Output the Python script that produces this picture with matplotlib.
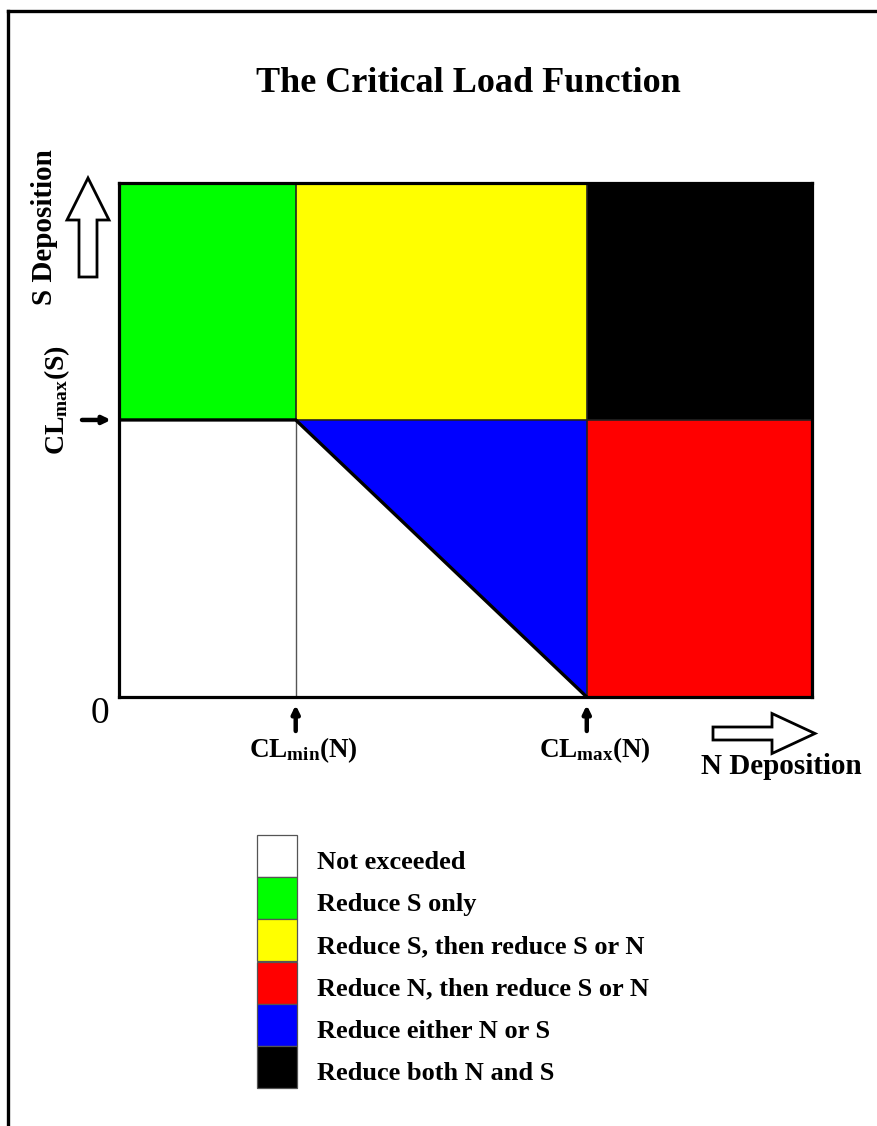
import matplotlib
matplotlib.use("Agg")
import matplotlib.pyplot as plt
from matplotlib.patches import Polygon, Rectangle, FancyArrow
from matplotlib.lines import Line2D
import matplotlib.transforms as mtransforms

plt.rcParams['font.family'] = ['Liberation Serif', 'DejaVu Serif']
plt.rcParams['mathtext.fontset'] = 'custom'
plt.rcParams['mathtext.rm'] = 'Liberation Serif'
plt.rcParams['mathtext.bf'] = 'Liberation Serif:bold'

# ---- data ----
title = "The Critical Load Function"
n_max = 10.0          # N deposition axis extent
s_max = 10.0          # S deposition axis extent
cl_min_n = 2.55
cl_max_n = 6.75
cl_max_s = 5.39

legend_labels = ["Not exceeded", "Reduce S only", "Reduce S, then reduce S or N",
                 "Reduce N, then reduce S or N", "Reduce either N or S", "Reduce both N and S"]
legend_colors = ["#FFFFFF", "#00FF00", "#FFFF00", "#FF0000", "#0000FF", "#000000"]

W, H = 877, 1126
fig = plt.figure(figsize=(W / 100, H / 100), dpi=100)

def fx(px):
    return px / W

def fy(py):
    return 1 - py / H

# outer frame (top and left visible)
fig.add_artist(Line2D([fx(8), fx(8)], [fy(11), 0], transform=fig.transFigure, color='black', lw=2.4))
fig.add_artist(Line2D([fx(8), 1], [fy(11), fy(11)], transform=fig.transFigure, color='black', lw=2.4))

fig.text(fx(468), fy(83), title, ha='center', va='center', fontsize=26, fontweight='bold')

# ---- main axes ----
L, R, T, B = 119, 812, 183, 697
ax = fig.add_axes([fx(L), fy(B), fx(R) - fx(L), fy(T) - fy(B)])
ax.set_xlim(0, n_max)
ax.set_ylim(0, s_max)
ax.set_xticks([])
ax.set_yticks([])
for s in ax.spines.values():
    s.set_linewidth(2.3)
    s.set_zorder(10)

white, green, yellow, red, blue, black = legend_colors
# regions
ax.add_patch(Polygon([(0, 0), (cl_max_n, 0), (cl_min_n, cl_max_s), (0, cl_max_s)], closed=True, fc=white, ec='none'))
ax.add_patch(Rectangle((0, cl_max_s), cl_min_n, s_max - cl_max_s, fc=green, ec='none'))
ax.add_patch(Rectangle((cl_min_n, cl_max_s), cl_max_n - cl_min_n, s_max - cl_max_s, fc=yellow, ec='none'))
ax.add_patch(Rectangle((cl_max_n, cl_max_s), n_max - cl_max_n, s_max - cl_max_s, fc=black, ec='none'))
ax.add_patch(Polygon([(cl_min_n, cl_max_s), (cl_max_n, cl_max_s), (cl_max_n, 0)], closed=True, fc=blue, ec='none'))
ax.add_patch(Rectangle((cl_max_n, 0), n_max - cl_max_n, cl_max_s, fc=red, ec='none'))

# thin dividers
ax.plot([cl_min_n, cl_min_n], [0, cl_max_s], color='#555555', lw=1.0, zorder=3)
ax.plot([cl_min_n, cl_min_n], [cl_max_s, s_max], color='#222222', lw=1.2, zorder=3)
ax.plot([cl_min_n, n_max], [cl_max_s, cl_max_s], color='#222222', lw=1.2, zorder=3)
ax.plot([cl_max_n, cl_max_n], [0, s_max], color='#222222', lw=1.2, zorder=3)
# critical load function (thick)
ax.plot([0, cl_min_n, cl_max_n], [cl_max_s, cl_max_s, 0], color='black', lw=2.4, zorder=5,
        solid_joinstyle='miter')

# ---- annotations ----
bx = mtransforms.blended_transform_factory(ax.transData, fig.transFigure)
by = mtransforms.blended_transform_factory(fig.transFigure, ax.transData)
shift = mtransforms.ScaledTranslation(8 / 100, 0, fig.dpi_scale_trans)

fig.text(fx(100), fy(714), "0", ha='center', va='center', fontsize=27)

small_arrow = dict(arrowstyle='-|>,head_length=0.45,head_width=0.22', color='black', lw=3.2,
                   shrinkA=0, shrinkB=0)
for xv, lab in [(cl_min_n, r'$\mathbf{CL_{min}(N)}$'), (cl_max_n, r'$\mathbf{CL_{max}(N)}$')]:
    ax.annotate('', xy=(xv, fy(705)), xycoords=bx, xytext=(xv, fy(731)), textcoords=bx,
                arrowprops=small_arrow)
    ax.text(xv, fy(750), lab, transform=bx + shift, ha='center', va='center', fontsize=19.5)

ax.annotate('', xy=(fx(111), cl_max_s), xycoords=by, xytext=(fx(82), cl_max_s), textcoords=by,
            arrowprops=small_arrow)
fig.text(fx(57), fy(400), r'$\mathbf{CL_{max}(S)}$', rotation=90, ha='center', va='center', fontsize=20)

fig.text(fx(45), fy(227), "S Deposition", rotation=90, ha='center', va='center', fontsize=21, fontweight='bold')
fig.text(fx(781), fy(767), "N Deposition", ha='center', va='center', fontsize=21, fontweight='bold')

# hollow arrows in pixel coordinates (origin top-left)
pix = mtransforms.Affine2D().scale(1, -1).translate(0, H) + mtransforms.Affine2D().scale(fig.dpi / 100)
up = FancyArrow(88, 277, 0, 178 - 277, width=18, head_width=42, head_length=42,
                length_includes_head=True, fc='white', ec='black', lw=2.0, transform=pix)
fig.add_artist(up)
right = FancyArrow(713, 733.5, 815 - 713, 0, width=13, head_width=40, head_length=43,
                   length_includes_head=True, fc='white', ec='black', lw=2.0, transform=pix)
fig.add_artist(right)

# ---- legend ----
lax = fig.add_axes([fx(257), fy(1088), fx(297) - fx(257), fy(835) - fy(1088)])
n = len(legend_labels)
bars = lax.barh(range(n), [1] * n, height=1.0, left=0, color=legend_colors, edgecolor='#555555', linewidth=0.9)
for b in bars:
    b.set_clip_on(False)
lax.set_xlim(0, 1)
lax.set_ylim(n - 0.5, -0.5)
lax.axis('off')
ltr = mtransforms.blended_transform_factory(lax.transAxes, lax.transData)
for i, lab in enumerate(legend_labels):
    lax.text(1.5, i + 0.15, lab, transform=ltr, ha='left', va='center', fontsize=19, fontweight='bold')

fig.savefig("out.png", dpi=100)
